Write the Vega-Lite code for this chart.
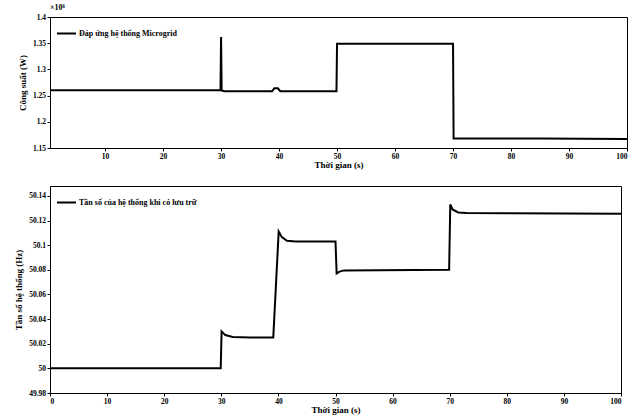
{
  "$schema": "https://vega.github.io/schema/vega-lite/v6.json",
  "background": "white",
  "padding": {"left": 14, "top": 3, "right": 7, "bottom": 0},
  "align": "none",
  "spacing": 15,
  "config": {
    "font": "Liberation Serif",
    "view": {"stroke": "black", "strokeWidth": 1},
    "axis": {
      "labelFont": "Liberation Serif", "labelFontWeight": "bold", "labelFontSize": 7.5, "labelColor": "black",
      "titleFont": "Liberation Serif", "titleFontWeight": "bold", "titleFontSize": 9, "titleColor": "black",
      "domainColor": "black", "tickColor": "black", "tickSize": 3, "grid": false, "labelPadding": 1.5
    },
    "legend": {
      "orient": "top-left", "offset": 6, "padding": 0, "title": null,
      "labelFont": "Liberation Serif", "labelFontWeight": "bold", "labelFontSize": 8, "labelColor": "black",
      "symbolType": "stroke", "symbolSize": 361, "symbolStrokeWidth": 2, "symbolStrokeColor": "black", "labelOffset": 2
    }
  },
  "vconcat": [
    {
      "width": 577,
      "height": 131,
      "title": {"text": "×10⁶", "anchor": "start", "frame": "group", "fontSize": 8, "fontWeight": "bold", "font": "Liberation Serif", "offset": 1, "color": "black"},
      "data": {"values": [
        {"t": 0, "p": 1.26, "series": "Đáp ứng hệ thống Microgrid"},
        {"t": 29.9, "p": 1.26, "series": "Đáp ứng hệ thống Microgrid"},
        {"t": 30.0, "p": 1.362, "series": "Đáp ứng hệ thống Microgrid"},
        {"t": 30.1, "p": 1.26, "series": "Đáp ứng hệ thống Microgrid"},
        {"t": 30.6, "p": 1.2585, "series": "Đáp ứng hệ thống Microgrid"},
        {"t": 38.8, "p": 1.2585, "series": "Đáp ứng hệ thống Microgrid"},
        {"t": 39.2, "p": 1.264, "series": "Đáp ứng hệ thống Microgrid"},
        {"t": 39.8, "p": 1.264, "series": "Đáp ứng hệ thống Microgrid"},
        {"t": 40.2, "p": 1.2585, "series": "Đáp ứng hệ thống Microgrid"},
        {"t": 49.9, "p": 1.2585, "series": "Đáp ứng hệ thống Microgrid"},
        {"t": 50.0, "p": 1.349, "series": "Đáp ứng hệ thống Microgrid"},
        {"t": 70.0, "p": 1.349, "series": "Đáp ứng hệ thống Microgrid"},
        {"t": 70.1, "p": 1.168, "series": "Đáp ứng hệ thống Microgrid"},
        {"t": 85, "p": 1.168, "series": "Đáp ứng hệ thống Microgrid"},
        {"t": 100, "p": 1.167, "series": "Đáp ứng hệ thống Microgrid"}
      ]},
      "mark": {"type": "line", "strokeWidth": 2, "clip": true},
      "encoding": {
        "x": {"field": "t", "type": "quantitative", "scale": {"domain": [0.5, 100], "nice": false, "zero": false},
              "axis": {"title": "Thời gian (s)", "values": [10, 20, 30, 40, 50, 60, 70, 80, 90, 100], "format": "d", "titlePadding": 0}},
        "y": {"field": "p", "type": "quantitative", "scale": {"domain": [1.15, 1.4], "nice": false, "zero": false},
              "axis": {"title": "Công suất (W)", "values": [1.15, 1.2, 1.25, 1.3, 1.35, 1.4], "format": ".3~r", "titlePadding": 5}},
        "color": {"field": "series", "type": "nominal", "scale": {"range": ["black"]}}
      }
    },
    {
      "width": 571,
      "height": 207,
      "data": {"values": [
        {"t": 0, "f": 50.0, "series": "Tần số của hệ thống khi có lưu trữ"},
        {"t": 29.9, "f": 50.0, "series": "Tần số của hệ thống khi có lưu trữ"},
        {"t": 30.05, "f": 50.03, "series": "Tần số của hệ thống khi có lưu trữ"},
        {"t": 30.7, "f": 50.027, "series": "Tần số của hệ thống khi có lưu trữ"},
        {"t": 32, "f": 50.0255, "series": "Tần số của hệ thống khi có lưu trữ"},
        {"t": 35, "f": 50.025, "series": "Tần số của hệ thống khi có lưu trữ"},
        {"t": 39.1, "f": 50.025, "series": "Tần số của hệ thống khi có lưu trữ"},
        {"t": 40.05, "f": 50.111, "series": "Tần số của hệ thống khi có lưu trữ"},
        {"t": 40.6, "f": 50.1065, "series": "Tần số của hệ thống khi có lưu trữ"},
        {"t": 41.5, "f": 50.1035, "series": "Tần số của hệ thống khi có lưu trữ"},
        {"t": 43, "f": 50.103, "series": "Tần số của hệ thống khi có lưu trữ"},
        {"t": 50.0, "f": 50.103, "series": "Tần số của hệ thống khi có lưu trữ"},
        {"t": 50.2, "f": 50.077, "series": "Tần số của hệ thống khi có lưu trữ"},
        {"t": 50.7, "f": 50.0785, "series": "Tần số của hệ thống khi có lưu trữ"},
        {"t": 51.5, "f": 50.0795, "series": "Tần số của hệ thống khi có lưu trữ"},
        {"t": 69.9, "f": 50.08, "series": "Tần số của hệ thống khi có lưu trữ"},
        {"t": 70.1, "f": 50.133, "series": "Tần số của hệ thống khi có lưu trữ"},
        {"t": 70.5, "f": 50.129, "series": "Tần số của hệ thống khi có lưu trữ"},
        {"t": 71.5, "f": 50.1265, "series": "Tần số của hệ thống khi có lưu trữ"},
        {"t": 73, "f": 50.126, "series": "Tần số của hệ thống khi có lưu trữ"},
        {"t": 100, "f": 50.1255, "series": "Tần số của hệ thống khi có lưu trữ"}
      ]},
      "mark": {"type": "line", "strokeWidth": 2, "clip": true},
      "encoding": {
        "x": {"field": "t", "type": "quantitative", "scale": {"domain": [0, 100], "nice": false},
              "axis": {"title": "Thời gian (s)", "values": [0, 10, 20, 30, 40, 50, 60, 70, 80, 90, 100], "format": "d", "titlePadding": 0}},
        "y": {"field": "f", "type": "quantitative", "scale": {"domain": [49.98, 50.148], "nice": false, "zero": false},
              "axis": {"title": "Tần số hệ thống (Hz)", "values": [49.98, 50, 50.02, 50.04, 50.06, 50.08, 50.1, 50.12, 50.14], "format": ".4~r", "titlePadding": 5}},
        "color": {"field": "series", "type": "nominal", "scale": {"range": ["black"]}}
      }
    }
  ],
  "resolve": {"scale": {"color": "independent"}, "legend": {"color": "independent"}}
}
